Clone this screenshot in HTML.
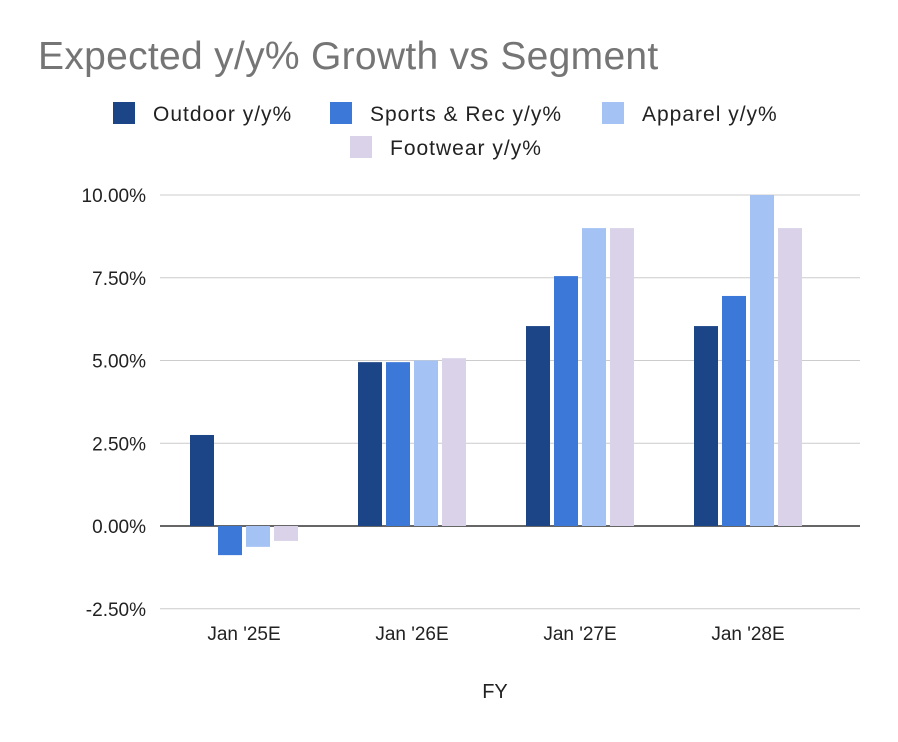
<!DOCTYPE html>
<html><head><meta charset="utf-8"><style>
body{margin:0;background:#fff;}
svg{display:block;font-family:"Liberation Sans",Arial,sans-serif;}
</style></head><body>
<svg id="chart" width="898" height="742">
<text x="38" y="69" font-size="39" letter-spacing="0.3" fill="#757575">Expected y/y% Growth vs Segment</text>
<g id="legend"></g>
<g id="grid"></g>
<g id="bars"></g>
<g id="xlabels"></g>
<text x="495" y="698" font-size="20" fill="#222" text-anchor="middle">FY</text>
</svg>
<script>
const categories = ["Jan '25E","Jan '26E","Jan '27E","Jan '28E"];
const seriesNames = ["Outdoor y/y%","Sports & Rec y/y%","Apparel y/y%","Footwear y/y%"];
const outdoor = [2.75, 4.95, 6.04, 6.04];
const sportsRec = [-0.88, 4.95, 7.55, 6.95];
const apparel = [-0.63, 5.0, 9.0, 10.0];
const footwear = [-0.45, 5.07, 9.0, 9.0];
const yTicks = [-2.5, 0, 2.5, 5, 7.5, 10];
const yTickLabels = ["-2.50%","0.00%","2.50%","5.00%","7.50%","10.00%"];

const colors = ["#1c4587","#3c78d8","#a4c2f4","#d9d2e9"];
const series = [outdoor, sportsRec, apparel, footwear];
const NS = "http://www.w3.org/2000/svg";
function y(v){ return 526 - v * 33.1; }
function xc(i){ return 244 + i * 168; }
function mk(tag, attrs, parent){ const e=document.createElementNS(NS,tag); for(const k in attrs) e.setAttribute(k,attrs[k]); parent.appendChild(e); return e; }

const grid=document.getElementById('grid');
yTicks.forEach((t,i)=>{
  const l=mk('line',{x1:160,x2:860,y1:y(t),y2:y(t),stroke:t===0?'#333':'#ccc','stroke-width':t===0?1.5:1},grid);
  
  
  const tx=mk('text',{x:146,y:y(t)+7,'font-size':19,fill:'#222','text-anchor':'end'},grid);
  tx.textContent=yTickLabels[i];
  
  
});
const bars=document.getElementById('bars');
categories.forEach((c,i)=>{
  series.forEach((s,j)=>{
    const v=s[i];
    const x=xc(i)-54+j*28;
    const r=mk('rect',{x:x,y:Math.min(y(v),y(0)),width:24,height:Math.abs(y(v)-y(0)),fill:colors[j]},bars);
    
    
  });
  const t=mk('text',{x:xc(i),y:640,'font-size':19,fill:'#222','text-anchor':'middle'},document.getElementById('xlabels'));
  t.textContent=c;
  
  
});
const leg=document.getElementById('legend');
const lpos=[[113,102],[330,102],[602,102],[350,136]];
seriesNames.forEach((n,j)=>{
  const g=mk('g',{},leg);
  
  
  mk('rect',{x:lpos[j][0],y:lpos[j][1],width:22,height:22,fill:colors[j]},g);
  const t=mk('text',{x:lpos[j][0]+40,y:lpos[j][1]+19,'font-size':21,'letter-spacing':1,fill:'#222'},g);
  t.textContent=n;
});
</script>
</body></html>
